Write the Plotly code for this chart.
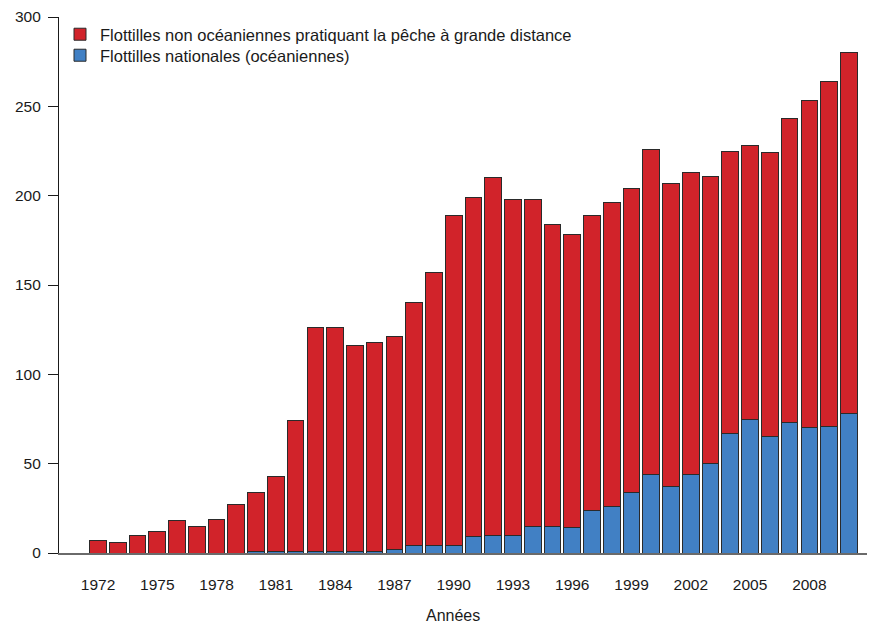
import plotly.graph_objects as go

years = list(range(1972, 2011))
total = [7, 6, 10, 12, 18, 15, 19, 27, 34, 43,
         74, 126, 126, 116, 118, 121, 140, 157, 189, 199,
         210, 198, 198, 184, 178, 189, 196, 204, 226, 207,
         213, 211, 225, 228, 224, 243, 253, 264, 280]
national = [0, 0, 0, 0, 0, 0, 0, 0, 1, 1,
            1, 1, 1, 1, 1, 2, 4, 4, 4, 9,
            10, 10, 15, 15, 14, 24, 26, 34, 44, 37,
            44, 50, 67, 75, 65, 73, 70, 71, 78]
foreign = [t - n for t, n in zip(total, national)]
tick_years = list(range(1972, 2010, 3))
y_ticks = [0, 50, 100, 150, 200, 250, 300]

name_foreign = "Flottilles non océaniennes pratiquant la pêche à grande distance"
name_national = "Flottilles nationales (océaniennes)"

FONT = "Liberation Sans, Arial, Helvetica, sans-serif"

fig = go.Figure()
fig.add_trace(go.Bar(x=years, y=national, name=name_national, legend="legend2",
                     marker=dict(color="#4180C4", line=dict(color="#2a2a2a", width=1))))
fig.add_trace(go.Bar(x=years, y=foreign, name=name_foreign, legend="legend",
                     marker=dict(color="#D1232A", line=dict(color="#2a2a2a", width=1))))

# page body has an 8px margin: the figure is drawn from (8, 8)
OFF = 8
W, H = 875 - OFF, 626 - OFF
PX = 19.76
AX_LEFT, AX_TOP, AX_BOT = 59, 17, 553     # page coordinates of plot area
L = AX_LEFT - OFF
T = AX_TOP - OFF
B = H - (AX_BOT - OFF)
R = 0
plot_w = W - L - R
plot_h = H - T - B
x0 = 1972 - (98 - AX_LEFT) / PX
x1 = x0 + plot_w / PX

fig.add_annotation(text="Années", xref="paper", yref="paper",
                   x=(453 - AX_LEFT) / plot_w, y=(AX_BOT - 615) / plot_h,
                   xanchor="center", yanchor="middle", showarrow=False,
                   font=dict(size=16, family=FONT, color="#1a1a1a"))

leg_common = dict(xanchor="left", yanchor="top", bgcolor="rgba(0,0,0,0)",
                  font=dict(size=16.5), itemclick=False)

fig.update_layout(
    width=W, height=H,
    margin=dict(l=L, r=R, t=T, b=B),
    barmode="stack", bargap=0.155,
    plot_bgcolor="white", paper_bgcolor="white",
    font=dict(family=FONT, size=15.5, color="#1a1a1a"),
    showlegend=True,
    legend=dict(x=(60 - AX_LEFT) / plot_w, y=1.0, **leg_common),
    legend2=dict(x=(60 - AX_LEFT) / plot_w, y=1 - (38 - AX_TOP) / plot_h, **leg_common),
    xaxis=dict(range=[x0, x1], tickmode="array", tickvals=tick_years,
               ticktext=[str(y) for y in tick_years],
               ticks="", showline=True, linecolor="#6a6a6a", linewidth=1.5,
               showgrid=False, zeroline=False, automargin=False,
               ticklabelstandoff=17),
    yaxis=dict(range=[0, 300], tickmode="array", tickvals=y_ticks,
               ticks="outside", ticklen=10, tickcolor="#1a1a1a", tickwidth=1,
               showline=True, linecolor="#1a1a1a", linewidth=1.2,
               showgrid=False, zeroline=False, automargin=False,
               ticklabelstandoff=4),
)

fig.write_html("out.html")
